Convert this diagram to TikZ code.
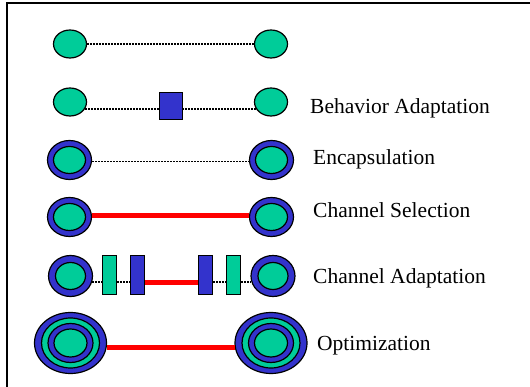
\documentclass[tikz,border=0pt]{standalone}
\usepackage{fontspec}
\setmainfont{Liberation Serif}
\usepackage{tikz}
\usetikzlibrary{shapes.geometric, positioning}
\definecolor{cellgreen}{RGB}{0,204,153}
\definecolor{wrapblue}{RGB}{51,51,204}
\definecolor{chanred}{RGB}{255,0,0}

\begin{document}
\begin{tikzpicture}[x=1pt,y=-1pt,
    core/.style={ellipse, draw, line width=1.2pt, fill=cellgreen, inner sep=0pt,
        minimum width=33pt, minimum height=28pt},
    shell/.style={ellipse, draw, line width=1.2pt, fill=wrapblue, inner sep=0pt,
        minimum width=44pt, minimum height=39pt},
    block/.style={rectangle, draw, line width=1.2pt, inner sep=0pt,
        minimum width=14pt, minimum height=39pt},
    loose/.style={line width=1.5pt, dash pattern=on 1.5pt off 1.5pt},
    chan/.style={line width=5pt, chanred},
    lbl/.style={anchor=base west, inner sep=0pt, font=\fontsize{21.5}{25}\selectfont}]
    \useasboundingbox (0,0) rectangle (530,387);
    \draw[line width=1.6pt] (530,3) -- (7,3) -- (7,387);

    % plain components
    \node[core] (hoge) at (70,44) {};
    \node[core] (fuga) at (271,44) {};
    \draw[loose] (hoge) -- (fuga);

    % behavior adaptation
    \node[core] (hoge2) at (70,102) {};
    \node[core] (fuga2) at (271,102) {};
    \node[block, fill=wrapblue, minimum width=23pt, minimum height=27pt] (mid2) at (171,106) {};
    \draw[loose] (hoge2.-25) -- (hoge2.-25 -| mid2.west);
    \draw[loose] (fuga2.205) -- (fuga2.205 -| mid2.east);
    \node[lbl] (lab2) at (310,114) {Behavior Adaptation};

    % encapsulation
    \node[shell] (hoge3) at (69.5,160) {};
    \node[core, minimum width=32pt, minimum height=27pt] at (hoge3) {};
    \node[shell] (fuga3) at (271.5,160) {};
    \node[core, minimum width=32pt, minimum height=27pt] at (fuga3) {};
    \draw[loose] (hoge3.-4) -- (fuga3.184);
    \node[lbl] (lab3) at (313,165) {Encapsulation};

    % channel selection
    \node[shell] (hoge4) at (69.5,217) {};
    \node[core, minimum width=32pt, minimum height=27pt] at (hoge4) {};
    \node[shell] (fuga4) at (271.5,217) {};
    \node[core, minimum width=32pt, minimum height=27pt] at (fuga4) {};
    \draw[chan] (hoge4.3) -- (fuga4.177);
    \node[lbl] (lab4) at (313,218) {Channel Selection};

    % channel adaptation
    \node[shell, minimum height=41pt] (hoge5) at (70.5,276) {};
    \node[core, minimum width=30pt, minimum height=27pt] at (hoge5) {};
    \node[shell, minimum height=41pt] (fuga5) at (273,276) {};
    \node[core, minimum width=30pt, minimum height=27pt] at (fuga5) {};
    \node[block, fill=cellgreen] (wrap5) at (109.5,275) {};
    \node[block, fill=wrapblue] (adap5) at (137.5,275) {};
    \node[block, fill=wrapblue] (adap6) at (205.5,275) {};
    \node[block, fill=cellgreen] (wrap6) at (233.5,275) {};
    \draw[loose] (hoge5.-16) -- (hoge5.-16 -| wrap5.west);
    \draw[loose] (wrap5.east |- hoge5.-16) -- (adap5.west |- hoge5.-16);
    \draw[chan] (adap5.east |- hoge5.-16) -- (adap6.west |- hoge5.-16);
    \draw[loose] (adap6.east |- hoge5.-16) -- (wrap6.west |- hoge5.-16);
    \draw[loose] (wrap6.east |- hoge5.-16) -- (fuga5.196);
    \node[lbl] (lab5) at (313,284) {Channel Adaptation};

    % optimization
    \node[shell, minimum width=72pt, minimum height=61pt] (hoge6) at (70.5,343) {};
    \node[core, minimum width=58pt, minimum height=50pt] at (hoge6) {};
    \node[shell, minimum width=45pt, minimum height=39pt] at (hoge6) {};
    \node[core] at (hoge6) {};
    \node[shell, minimum width=72pt, minimum height=61pt] (fuga6) at (271,343) {};
    \node[core, minimum width=58pt, minimum height=50pt] at (fuga6) {};
    \node[shell, minimum width=45pt, minimum height=39pt] at (fuga6) {};
    \node[core] at (fuga6) {};
    \draw[chan] (hoge6.-7) -- (fuga6.187);
    \node[lbl] (lab6) at (317,350) {Optimization};
\end{tikzpicture}
\end{document}
